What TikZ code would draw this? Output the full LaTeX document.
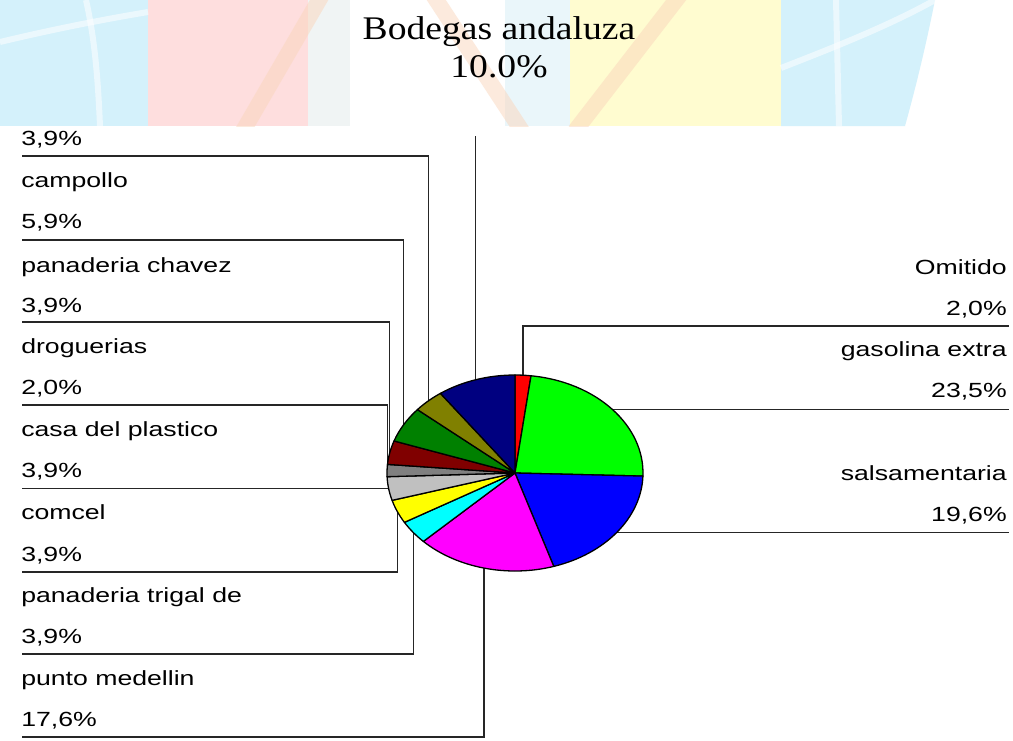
\documentclass[tikz,border=0pt]{standalone}
\usepackage{fontspec}
\newfontfamily\labfont{Liberation Sans}
\newfontfamily\titfont{Liberation Serif}
\definecolor{bgblue}{RGB}{212,241,251}
\definecolor{bgpink}{RGB}{254,222,222}
\definecolor{bggrey}{RGB}{240,244,244}
\definecolor{bgpale}{RGB}{234,246,250}
\definecolor{bgyellow}{RGB}{255,252,208}
\definecolor{bgpeach}{RGB}{250,214,188}
\definecolor{cRed}{RGB}{255,0,0}
\definecolor{cGreen}{RGB}{0,255,0}
\definecolor{cBlue}{RGB}{0,0,255}
\definecolor{cMagenta}{RGB}{255,0,255}
\definecolor{cCyan}{RGB}{0,255,255}
\definecolor{cYellow}{RGB}{255,255,0}
\definecolor{cSilver}{RGB}{192,192,192}
\definecolor{cGray}{RGB}{128,128,128}
\definecolor{cMaroon}{RGB}{128,0,0}
\definecolor{cDkGreen}{RGB}{0,128,0}
\definecolor{cOlive}{RGB}{128,128,0}
\definecolor{cNavy}{RGB}{0,0,128}
\begin{document}
\begin{tikzpicture}[x=1pt,y=-1pt,
  lab/.style={font=\labfont\fontsize{20.5}{24}\selectfont, xscale=1.3, inner sep=0pt},
  labl/.style={lab, anchor=base west},
  labr/.style={lab, anchor=base east},
  titletext/.style={font=\titfont\fontsize{33}{38}\selectfont, xscale=1.14, inner sep=0pt, anchor=base},
  leader/.style={draw=black!85, line width=1.1pt},
  slice/.style={draw=black, line width=1.3pt, line join=round},
  bgline/.style={draw=white, opacity=0.55, line width=6pt},
  stripe/.style={draw=bgpeach, opacity=0.5, line width=16pt}]
\useasboundingbox (0,0) rectangle (1013,740);
\fill[white] (0,0) rectangle (1013,740);
% faded background band
\begin{scope}
  \clip (0,0) rectangle (1013,126);
  \fill[bgblue] (0,0) rectangle (148,126);
  \fill[bgpink] (148,0) rectangle (308,126);
  \fill[bggrey] (308,0) rectangle (350,126);
  \fill[bgpale] (505,0) rectangle (570,126);
  \fill[bgyellow] (570,0) rectangle (781,126);
  \fill[bgblue] (781,0) -- (935,0) .. controls (925,50) and (915,90) .. (905,126) -- (781,126) -- cycle;
  \draw[bgline] (0,42) .. controls (50,30) and (100,20) .. (148,12);
  \draw[bgline] (86,0) .. controls (95,40) and (98,80) .. (100,126);
  \draw[bgline] (836,0) -- (839,126);
  \draw[bgline] (781,68) .. controls (840,45) and (890,25) .. (935,0);
  \draw[stripe] (322,-5) -- (243,131);
  \draw[stripe] (433,-5) -- (522,131);
  \draw[stripe] (680,-5) -- (575,131);
\end{scope}
% title of the navy slice
\node[titletext] (t1) at (499,39) {Bodegas andaluza};
\node[titletext] (t2) at (499,77) {10.0\%};
% pie anchor points
\begin{scope}[shift={(515,473)}, x=1pt, y=1pt]
  \coordinate (pRed) at (86.4:128 and 98);
  \coordinate (pGreen) at (40.5:128 and 98);
  \coordinate (pBlue) at (-37.08:128 and 98);
  \coordinate (pMagenta) at (-104.04:128 and 98);
  \coordinate (pCyan) at (-142.74:128 and 98);
  \coordinate (pYellow) at (-156.78:128 and 98);
  \coordinate (pSilver) at (-170.82:128 and 98);
  \coordinate (pGray) at (-181.44:128 and 98);
  \coordinate (pMaroon) at (-192.06:128 and 98);
  \coordinate (pDkGreen) at (-209.7:128 and 98);
  \coordinate (pOlive) at (-227.34:128 and 98);
  \coordinate (pNavy) at (-252.18:128 and 98);
\end{scope}
% leader end points
\coordinate (hNavy) at (0,136);
\coordinate (hOlive) at (22,156);
\coordinate (hDkGreen) at (22,240);
\coordinate (hMaroon) at (22,322);
\coordinate (hGray) at (22,405);
\coordinate (hSilver) at (22,0);
\coordinate (hYellow) at (22,572);
\coordinate (hCyan) at (22,654);
\coordinate (hMagenta) at (22,737);
\coordinate (hRed) at (1009,326);
\coordinate (hGreen) at (1009,0);
\coordinate (hBlue) at (1009,0);
% leaders
\draw[leader] (pNavy) -- (pNavy |- hNavy);
\draw[leader] (pOlive) -- (pOlive |- hOlive) -- (hOlive);
\draw[leader] (pDkGreen) -- (pDkGreen |- hDkGreen) -- (hDkGreen);
\draw[leader] (pMaroon) -- (pMaroon |- hMaroon) -- (hMaroon);
\draw[leader] (pGray) -- (pGray |- hGray) -- (hGray);
\draw[leader] (pSilver) -- (pSilver -| hSilver);
\draw[leader] (pYellow) -- (pYellow |- hYellow) -- (hYellow);
\draw[leader] (pCyan) -- (pCyan |- hCyan) -- (hCyan);
\draw[leader] (pMagenta) -- (pMagenta |- hMagenta) -- (hMagenta);
\draw[leader] (pRed) -- (pRed |- hRed) -- (hRed);
\draw[leader] (pGreen) -- (pGreen -| hGreen);
\draw[leader] (pBlue) -- (pBlue -| hBlue);
% pie
\begin{scope}[shift={(515,473)}, x=1pt, y=1pt]
  \filldraw[slice, fill=cRed] (0,0) -- (90:128 and 98) arc[start angle=90, end angle=82.8, x radius=128, y radius=98] -- cycle;
  \filldraw[slice, fill=cGreen] (0,0) -- (82.8:128 and 98) arc[start angle=82.8, end angle=-1.8, x radius=128, y radius=98] -- cycle;
  \filldraw[slice, fill=cBlue] (0,0) -- (-1.8:128 and 98) arc[start angle=-1.8, end angle=-72.36, x radius=128, y radius=98] -- cycle;
  \filldraw[slice, fill=cMagenta] (0,0) -- (-72.36:128 and 98) arc[start angle=-72.36, end angle=-135.72, x radius=128, y radius=98] -- cycle;
  \filldraw[slice, fill=cCyan] (0,0) -- (-135.72:128 and 98) arc[start angle=-135.72, end angle=-149.76, x radius=128, y radius=98] -- cycle;
  \filldraw[slice, fill=cYellow] (0,0) -- (-149.76:128 and 98) arc[start angle=-149.76, end angle=-163.8, x radius=128, y radius=98] -- cycle;
  \filldraw[slice, fill=cSilver] (0,0) -- (-163.8:128 and 98) arc[start angle=-163.8, end angle=-177.84, x radius=128, y radius=98] -- cycle;
  \filldraw[slice, fill=cGray] (0,0) -- (-177.84:128 and 98) arc[start angle=-177.84, end angle=-185.04, x radius=128, y radius=98] -- cycle;
  \filldraw[slice, fill=cMaroon] (0,0) -- (-185.04:128 and 98) arc[start angle=-185.04, end angle=-199.08, x radius=128, y radius=98] -- cycle;
  \filldraw[slice, fill=cDkGreen] (0,0) -- (-199.08:128 and 98) arc[start angle=-199.08, end angle=-220.32, x radius=128, y radius=98] -- cycle;
  \filldraw[slice, fill=cOlive] (0,0) -- (-220.32:128 and 98) arc[start angle=-220.32, end angle=-234.36, x radius=128, y radius=98] -- cycle;
  \filldraw[slice, fill=cNavy] (0,0) -- (-234.36:128 and 98) arc[start angle=-234.36, end angle=-270, x radius=128, y radius=98] -- cycle;
\end{scope}
% left labels
\node[labl] (vOlive) at (21,145) {3,9\%};
\node[labl] (nDkGreen) at (21,187) {campollo};
\node[labl] (vDkGreen) at (21,228) {5,9\%};
\node[labl] (nMaroon) at (21,272) {panaderia chavez};
\node[labl] (vMaroon) at (21,312) {3,9\%};
\node[labl] (nGray) at (21,353) {droguerias};
\node[labl] (vGray) at (21,394) {2,0\%};
\node[labl] (nSilver) at (21,436) {casa del plastico};
\node[labl] (vSilver) at (21,477) {3,9\%};
\node[labl] (nYellow) at (21,519) {comcel};
\node[labl] (vYellow) at (21,561) {3,9\%};
\node[labl] (nCyan) at (21,602) {panaderia trigal de};
\node[labl] (vCyan) at (21,643) {3,9\%};
\node[labl] (nMagenta) at (21,685) {punto medellin};
\node[labl] (vMagenta) at (21,726) {17,6\%};
% right labels
\node[labr] (nRed) at (1007,274) {Omitido};
\node[labr] (vRed) at (1007,315) {2,0\%};
\node[labr] (nGreen) at (1007,356) {gasolina extra};
\node[labr] (vGreen) at (1007,397) {23,5\%};
\node[labr] (nBlue) at (1007,480) {salsamentaria};
\node[labr] (vBlue) at (1007,521) {19,6\%};
\end{tikzpicture}
\end{document}
